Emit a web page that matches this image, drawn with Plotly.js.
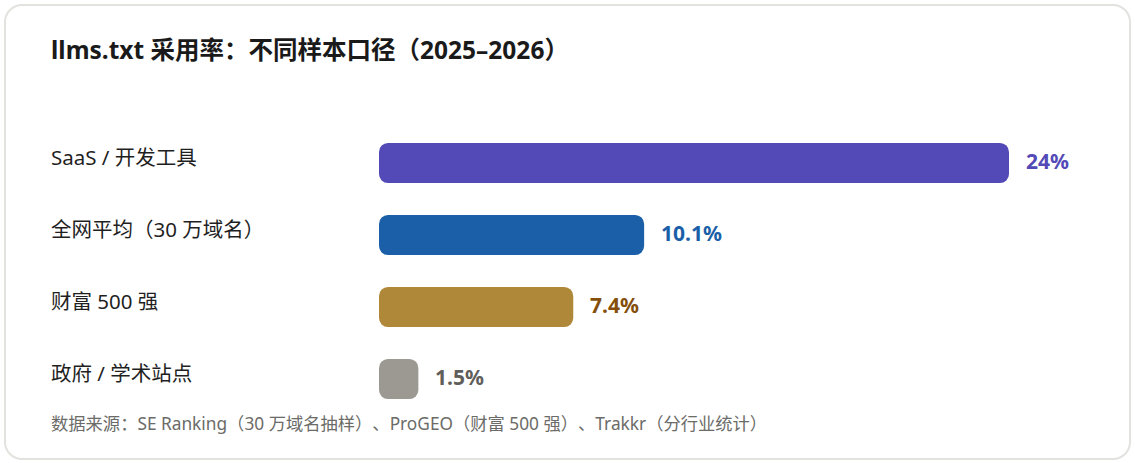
<!DOCTYPE html>
<html>
<head>
<meta charset="utf-8">
<script src="https://cdn.plot.ly/plotly-3.0.1.min.js"></script>
<style>
  html, body { margin: 0; padding: 0; background: #ffffff; }
  * { text-spacing-trim: space-all; }
  #plot { position: absolute; left: 0; top: 0; width: 1135px; height: 463px; }
  #card {
    position: absolute; left: 4px; top: 4px; width: 1123px; height: 452px;
    border: 2px solid #e2e2de; border-radius: 18px; pointer-events: none;
  }
</style>
</head>
<body>
<div id="plot"></div>
<div id="card"></div>
<script>
const Plotly = window.Plotly;

const categories = ["SaaS / 开发工具", "全网平均（30 万域名）", "财富 500 强", "政府 / 学术站点"];
const rates = [24, 10.1, 7.4, 1.5];
const rateLabels = ["24%", "10.1%", "7.4%", "1.5%"];
const barColors = ["#534ab7", "#1a5fa8", "#b0883a", "#9c9892"];
const labelColors = ["#534ab7", "#1a5fa8", "#854f0b", "#5f5e5a"];

const fontFamily = '"Noto Sans", "Noto Sans CJK SC", sans-serif';

// plotly only rounds the far end of a bar, so each bar is drawn as two
// overlapping pieces growing outwards from inside it: both ends get rounded
const traceRight = {
    type: "bar",
    orientation: "h",
    base: rates.map(v => v * 0.3),
    x: rates.map(v => v * 0.7),
    y: categories,
    width: 0.556,
    marker: { color: barColors, cornerradius: 9, line: { width: 0 } },
    hoverinfo: "skip"
};

const traceLeft = {
    type: "bar",
    orientation: "h",
    base: rates.map(v => v * 0.7),
    x: rates.map(v => -v * 0.7),
    y: categories,
    width: 0.556,
    marker: { color: barColors, cornerradius: 9, line: { width: 0 } },
    hoverinfo: "skip"
};

const categoryNotes = categories.map(cat => ({
    xref: "paper",
    yref: "y",
    x: -0.446,
    y: cat,
    text: cat,
    xanchor: "left",
    yanchor: "middle",
    xshift: -2,
    yshift: 6,
    showarrow: false,
    font: { size: 20.5, color: "#1f1f1f", family: fontFamily }
}));

const valueNotes = rates.map((v, i) => ({
    xref: "x",
    yref: "y",
    x: v,
    y: categories[i],
    text: "<b>" + rateLabels[i] + "</b>",
    xanchor: "left",
    yanchor: "middle",
    xshift: 15,
    yshift: 2,
    showarrow: false,
    font: { size: 21, color: labelColors[i], family: fontFamily }
}));

const sourceNote = {
    xref: "paper",
    yref: "paper",
    x: -0.446,
    y: -0.031,
    text: "数据来源：SE Ranking（30 万域名抽样）、ProGEO（财富 500 强）、Trakkr（分行业统计）",
    xanchor: "left",
    yanchor: "middle",
    xshift: -2,
    showarrow: false,
    font: { size: 17.3, color: "#6b6b68", family: fontFamily }
};

const layoutRates = {
    width: 1135,
    height: 463,
    margin: { l: 379, r: 21, t: 127, b: 48 },
    barmode: "overlay",
    paper_bgcolor: "rgba(0,0,0,0)",
    plot_bgcolor: "rgba(0,0,0,0)",
    font: { family: fontFamily, color: "#1f1f1f" },
    title: {
        text: "<b>llms.txt 采用率：不同样本口径（2025–2026）</b>",
        xref: "container",
        yref: "container",
        x: 0.045,
        xanchor: "left",
        y: 0.892,
        yanchor: "middle",
        font: { size: 24.5, color: "#1a1a1a", family: fontFamily }
    },
    xaxis: {
        range: [0, 28],
        showgrid: false,
        zeroline: false,
        showticklabels: false,
        fixedrange: true
    },
    yaxis: {
        range: [3.5, -0.5],
        showgrid: false,
        zeroline: false,
        showticklabels: false,
        fixedrange: true
    },
    showlegend: false,
    annotations: [...categoryNotes, ...valueNotes, sourceNote]
};

Plotly.newPlot("plot", [traceLeft, traceRight], layoutRates, { displayModeBar: false, staticPlot: true });
</script>
</body>
</html>
